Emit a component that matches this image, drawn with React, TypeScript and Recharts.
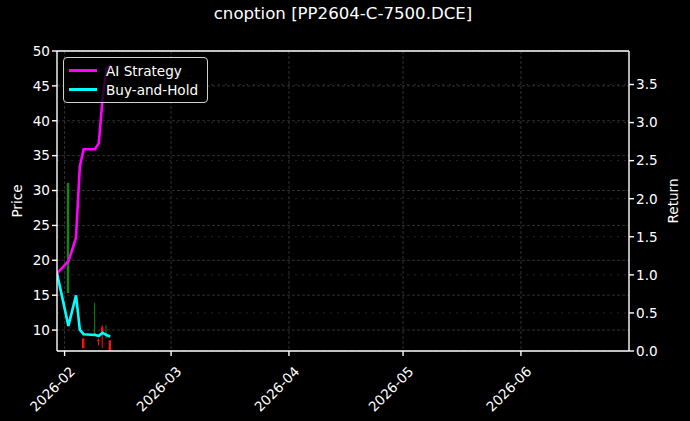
import { ComposedChart, Line, Bar, XAxis, YAxis, CartesianGrid, ReferenceLine } from 'recharts'

// trading days shown in the chart
const dates = [
  '2026-01-30', '2026-02-02', '2026-02-03', '2026-02-04', '2026-02-05', '2026-02-06',
  '2026-02-09', '2026-02-10', '2026-02-11', '2026-02-12', '2026-02-13',
]
// cumulative value (right axis)
const aiStrategy = [1.02, 1.18, 1.33, 1.49, 2.42, 2.65, 2.65, 2.73, 3.32, 3.70, 3.76]
const buyHold = [1.02, 0.33, 0.53, 0.73, 0.28, 0.22, 0.21, 0.2, 0.24, 0.21, 0.19]
// option candles (left axis), null = nothing visible
const opens = [null, 15.3, null, null, null, 8.8, 9.4, 8.6, 10.4, 9.2, 8.5]
const highs = [null, 31.1, null, null, null, 8.8, 13.9, 8.8, 10.7, 10.7, 8.5]
const lows = [null, 15.3, null, null, null, 7.4, 9.4, 7.8, 7.4, 8.8, 6.8]
const closes = [null, 31.1, null, null, null, 7.4, 9.6, 8.4, 9.3, 9.5, 7.0]

const priceTicks = [10, 15, 20, 25, 30, 35, 40, 45, 50]
const returnTicks = [0, 0.5, 1, 1.5, 2, 2.5, 3, 3.5]
const monthTicks = ['2026-02-01', '2026-03-01', '2026-04-01', '2026-05-01', '2026-06-01']
const xStart = '2026-01-30'
const xEnd = '2026-06-29T10:00:00Z'

const ts = (d: string) => new Date(d.length === 10 ? d + 'T00:00:00Z' : d).getTime()

const data = dates.map((d, i) => ({
  ts: ts(d),
  ai: aiStrategy[i],
  bh: buyHold[i],
  range: highs[i] == null ? null : [lows[i], highs[i]],
  open: opens[i],
  close: closes[i],
}))

const FONT = '"DejaVu Sans", sans-serif'
const TICK_FS = 13.6
const GREEN = '#0b8a0b'
const RED = '#ff1010'
const SPINE = { stroke: '#fff', strokeWidth: 1.4 }

function Candle(props: any) {
  const { x, y, width, height, payload } = props
  if (!payload || payload.range == null || height == null) return null
  const [lo, hi] = payload.range
  const cx = x + width / 2
  const toY = (v: number) => y + (hi === lo ? 0 : ((hi - v) / (hi - lo)) * height)
  const color = payload.close >= payload.open ? GREEN : RED
  const top = toY(Math.max(payload.open, payload.close))
  const bot = toY(Math.min(payload.open, payload.close))
  return (
    <g>
      <line x1={cx} x2={cx} y1={y} y2={y + height} stroke={color} strokeWidth={1} />
      <rect x={cx - 1.2} y={top} width={2.4} height={Math.max(bot - top, 1)} fill={color} />
    </g>
  )
}

function DateTick(props: any) {
  const { x, y, payload } = props
  const d = new Date(payload.value)
  const label = `${d.getUTCFullYear()}-${String(d.getUTCMonth() + 1).padStart(2, '0')}`
  const tx = x + 4
  const ty = y + 7
  return (
    <text x={tx} y={ty} transform={`rotate(-45 ${tx} ${ty})`} textAnchor="end" dominantBaseline="hanging"
      fill="#fff" fontSize={TICK_FS} fontFamily={FONT}>
      {label}
    </text>
  )
}

export default function App() {
  return (
    <div style={{ position: 'absolute', left: 0, top: 0, width: 690, height: 421, background: '#000', fontFamily: FONT }}>
      <div style={{ position: 'absolute', left: 0, width: 686, top: 4, textAlign: 'center', color: '#fff', fontSize: 16.6 }}>
        cnoption [PP2604-C-7500.DCE]
      </div>
      <div style={{ position: 'absolute', left: 17, top: 201, transform: 'translate(-50%, -50%) rotate(-90deg)', color: '#fff', fontSize: TICK_FS }}>
        Price
      </div>
      <div style={{ position: 'absolute', left: 673, top: 201, transform: 'translate(-50%, -50%) rotate(-90deg)', color: '#fff', fontSize: TICK_FS }}>
        Return
      </div>
      <ComposedChart width={690} height={421} data={data} margin={{ top: 51, right: 0, bottom: 0, left: 0 }}>
        <CartesianGrid yAxisId="price" stroke="#3c3c3c" strokeDasharray="3 2" strokeWidth={0.8}
          verticalValues={monthTicks.map(ts)} horizontalValues={priceTicks} />
        <CartesianGrid yAxisId="ret" vertical={false} stroke="#2e2e2e" strokeDasharray="2 5" strokeWidth={0.8}
          horizontalValues={returnTicks} />
        <XAxis dataKey="ts" type="number" domain={[ts(xStart), ts(xEnd)]} ticks={monthTicks.map(ts)}
          height={70} axisLine={SPINE} tickLine={SPINE} tickSize={5}
          tick={<DateTick />} allowDataOverflow interval={0} />
        <YAxis yAxisId="price" orientation="left" domain={[7, 50]} ticks={priceTicks} width={57}
          allowDataOverflow axisLine={SPINE} tickLine={SPINE} tickSize={5} interval={0}
          tick={{ fill: '#fff', fontSize: TICK_FS, fontFamily: FONT }} />
        <YAxis yAxisId="ret" orientation="right" domain={[0, 3.94]} ticks={returnTicks} width={61}
          allowDataOverflow axisLine={SPINE} tickLine={SPINE} tickSize={5} interval={0}
          tickFormatter={(v: number) => v.toFixed(1)}
          tick={{ fill: '#fff', fontSize: TICK_FS, fontFamily: FONT }} />
        <ReferenceLine yAxisId="price" y={50} stroke="#fff" strokeWidth={1.4} />
        <Bar yAxisId="price" dataKey="range" barSize={3} shape={<Candle />} isAnimationActive={false} />
        <Line yAxisId="ret" type="linear" dataKey="ai" stroke="#ff00ff" strokeWidth={2.6} dot={false} isAnimationActive={false} />
        <Line yAxisId="ret" type="linear" dataKey="bh" stroke="#00ffff" strokeWidth={2.6} dot={false} isAnimationActive={false} />
      </ComposedChart>
      <div style={{
        position: 'absolute', left: 63, top: 57, width: 145, height: 46, boxSizing: 'border-box',
        border: '1px solid #cfcfcf', borderRadius: 4, background: 'rgba(0,0,0,0.8)', color: '#fff', fontSize: TICK_FS,
        padding: '3px 0 0 5px', whiteSpace: 'nowrap',
      }}>
        {[['AI Strategy', '#ff00ff'], ['Buy-and-Hold', '#00ffff']].map(([name, c]) => (
          <div key={name} style={{ display: 'flex', alignItems: 'center', height: 19 }}>
            <span style={{ display: 'inline-block', width: 28, height: 2.6, background: c, marginRight: 9 }} />
            {name}
          </div>
        ))}
      </div>
    </div>
  )
}
